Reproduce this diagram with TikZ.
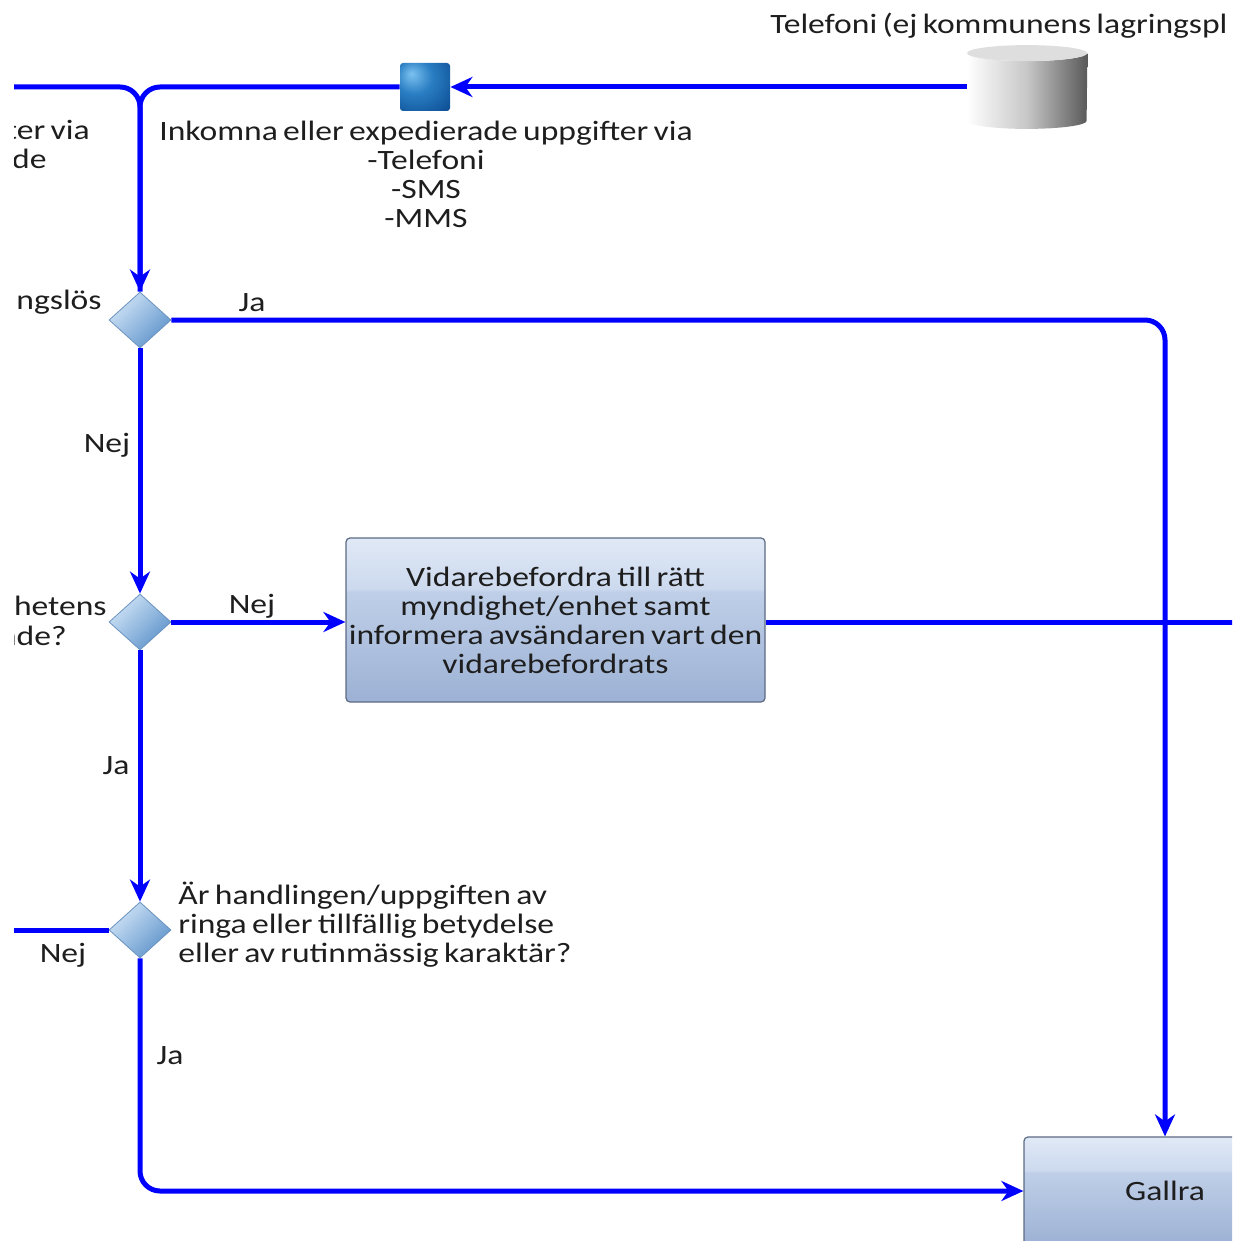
\documentclass[tikz,border=0pt]{standalone}
\usepackage{fontspec}
\setmainfont{Carlito}[FakeStretch=1.2, WordSpace=0.7]
\usetikzlibrary{arrows.meta,shapes.geometric,calc}
\definecolor{flowblue}{HTML}{0000FF}
\definecolor{txt}{HTML}{1E1E1E}
\definecolor{declight}{HTML}{CFE3F6}
\definecolor{decdark}{HTML}{5F94CB}
\definecolor{decedge}{HTML}{6A93C0}
\definecolor{boxB}{HTML}{9CB1D4}
\definecolor{boxM1}{HTML}{BFCFE8}
\definecolor{boxM2}{HTML}{CCD9EE}
\definecolor{boxT}{HTML}{E0E9F6}
\definecolor{boxedge}{HTML}{5C6A84}
\definecolor{sqA}{HTML}{7CC2F0}
\definecolor{sqB}{HTML}{2A7EC3}
\definecolor{sqC}{HTML}{0A4A90}
\pgfdeclareverticalshading{boxshade}{100bp}{color(0bp)=(boxB); color(25bp)=(boxB); color(58.5bp)=(boxM1); color(59.5bp)=(boxM2); color(75bp)=(boxT); color(100bp)=(boxT)}
\pgfdeclareradialshading{sqshade}{\pgfpoint{-14bp}{14bp}}{color(0bp)=(sqA); color(18bp)=(sqB); color(45bp)=(sqC); color(80bp)=(sqC)}
\tikzset{
  flow/.style={draw=flowblue, line width=2.5pt, rounded corners=10pt},
  arr/.style={-{Stealth[length=11pt,width=10pt,inset=3.5pt]}},
  lbl/.style={font=\fontsize{14}{14.5}\selectfont, text=txt, inner sep=0pt},
  dec/.style={diamond, minimum width=31pt, minimum height=28pt, inner sep=0pt,
    draw=decedge, line width=0.4pt, top color=declight, bottom color=decdark, shading angle=45},
  procbox/.style={rectangle, rounded corners=2pt, draw=boxedge, line width=0.6pt,
    shading=boxshade, align=center, font=\fontsize{14}{14.5}\selectfont, text=txt, inner sep=0pt},
}
\begin{document}
\begin{tikzpicture}[x=0.5pt,y=-0.5pt]
\useasboundingbox (0,0) rectangle (1238,1241);
\clip (14,0) rectangle (1232,1241);

% nodes
\node[rectangle, minimum width=25pt, minimum height=24pt, inner sep=0pt, rounded corners=1.5pt, shading=sqshade] (sq) at (425,87) {};
\node[rectangle, minimum width=60pt, minimum height=41.5pt, inner sep=0pt] (cyl) at (1027,87) {};
\shade[left color=white, right color=black!65, middle color=black!22]
  ($(cyl.north west)+(0,8)$) -- ($(cyl.south west)+(0,-8)$)
  arc[start angle=180, end angle=360, x radius=30pt, y radius=4pt]
  -- ($(cyl.north east)+(0,8)$)
  arc[start angle=0, end angle=180, x radius=30pt, y radius=-4pt] -- cycle;
\fill[black!13] ($(cyl.north)+(0,8)$) ellipse[x radius=30pt, y radius=4pt];

\node[dec] (d1) at (140,320) {};
\node[dec] (d2) at (140,622) {};
\node[dec] (d3) at (140,930) {};
\node[procbox, minimum width=209.5pt, minimum height=82pt] (box1) at (555.5,620)
  {Vidarebefordra till rätt\\myndighet/enhet samt\\informera avsändaren vart den\\vidarebefordrats};
\node[procbox, minimum width=141pt, minimum height=54pt] (gallra) at (1165,1191) {Gallra};

\coordinate (lin) at (-40,87);
\coordinate (lout) at (-40,930);
\coordinate (rout) at (1300,622);

% connectors
\draw[flow,arr] (cyl.west) -- (sq.east);
\draw[flow] (lin) -| (d1.north);
\draw[flow,arr] (sq.west) -| (d1.north);
\draw[flow,arr] (d1.east) -| (gallra.north);
\draw[flow,arr] (d1.south) -- (d2.north);
\draw[flow,arr] (d2.east) -- (d2.east -| box1.west);
\draw[flow] (d2.east -| box1.east) -- (rout);
\draw[flow,arr] (d2.south) -- (d3.north);
\draw[flow] (d3.west) -- (lout);
\draw[flow,arr] (d3.south) |- (gallra.west);

% labels
\node[lbl, anchor=west] (ttel) at (770,26) {Telefoni (ej kommunens lagringspl};
\node[lbl, align=center] (tink) at (426,174) {Inkomna eller expedierade uppgifter via\\-Telefoni\\-SMS\\-MMS};
\node[lbl, anchor=east] (tl1) at (90,130) {ter via};
\node[lbl, anchor=east] (tl2) at (47,159) {de};
\node[lbl, anchor=east] (tq1) at (102,302) {ngslös};
\node[lbl, anchor=east] (tq2a) at (107,606) {hetens};
\node[lbl, anchor=east] (tq2b) at (67,636) {åde?};
\node[lbl, anchor=west, align=left] (tq3) at (178,925) {Är handlingen/uppgiften av\\ringa eller tillfällig betydelse\\eller av rutinmässig karaktär?};
\node[lbl] (l1) at (252,303) {Ja};
\node[lbl] (l2) at (107,445) {Nej};
\node[lbl] (l3) at (252,606) {Nej};
\node[lbl] (l4) at (116,766) {Ja};
\node[lbl] (l5) at (63,955) {Nej};
\node[lbl] (l6) at (170,1056) {Ja};
\end{tikzpicture}
\end{document}
